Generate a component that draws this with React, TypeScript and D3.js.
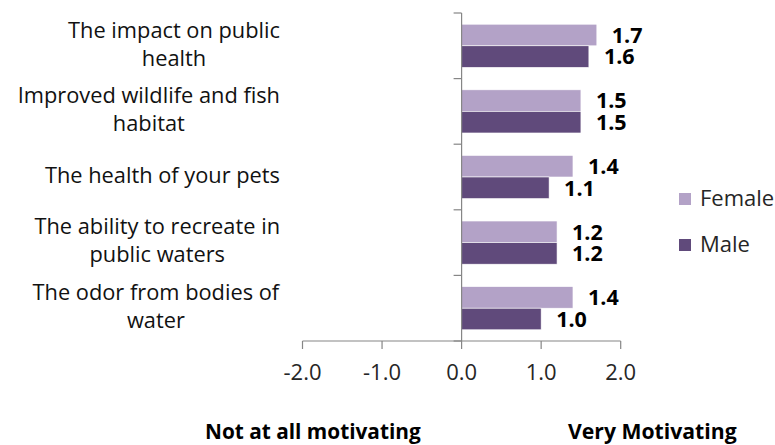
import { useEffect, useRef } from "react";
import * as d3 from "d3";

const categories = [
  "The impact on public health",
  "Improved wildlife and fish habitat",
  "The health of your pets",
  "The ability to recreate in public waters",
  "The odor from bodies of water",
];
// how the category labels wrap in the original
const categoryLines = [
  ["The impact on public", "health"],
  ["Improved wildlife and fish", "habitat"],
  ["The health of your pets"],
  ["The ability to recreate in", "public waters"],
  ["The odor from bodies of", "water"],
];
const series = ["Female", "Male"];
const female = [1.7, 1.5, 1.4, 1.2, 1.4];
const male = [1.6, 1.5, 1.1, 1.2, 1.0];
const xTicks = [-2, -1, 0, 1, 2];

const colors: Record<string, string> = { Female: "#b3a2c7", Male: "#604a7b" };
const axisColor = "#868686";
const font = "'Open Sans', Lato, sans-serif";
const fmt = (v: number) => d3.format(".1f")(v).replace("\u2212", "-");

function App() {
  const svgRef = useRef<SVGSVGElement | null>(null);

  useEffect(() => {
    const svg = d3.select(svgRef.current);
    svg.selectAll("*").remove();

    const x = d3.scaleLinear().domain([-2, 2]).range([302.5, 620.7]);
    const y = d3.scaleBand().domain(categories).range([13, 341]).padding(0);
    const sub = d3.scaleBand().domain(series).range([0, y.bandwidth()]).paddingInner(0).paddingOuter(0.52);

    const rows = categories.map((c, i) => ({ cat: c, Female: female[i], Male: male[i] }));

    // bars
    const g = svg.append("g");
    rows.forEach((r) => {
      series.forEach((s) => {
        const v = (r as any)[s] as number;
        const by = (y(r.cat) || 0) + (sub(s) || 0);
        g.append("rect")
          .attr("x", x(0))
          .attr("y", by)
          .attr("width", x(v) - x(0))
          .attr("height", sub.bandwidth())
          .attr("fill", colors[s])
          .attr("stroke", "#ffffff")
          .attr("stroke-width", 0.6);
        g.append("text")
          .attr("x", x(v) + 15)
          .attr("y", by + sub.bandwidth() / 2 + 2)
          .attr("dominant-baseline", "middle")
          .attr("font-family", font)
          .attr("font-weight", "bold")
          .attr("font-size", 21.5)
          .attr("fill", "#000")
          .text(fmt(v));
      });
    });

    // vertical axis with ticks between categories
    const yTicks = [...categories.map((c) => y(c) || 0), 341];
    svg.append("line")
      .attr("x1", x(0)).attr("x2", x(0))
      .attr("y1", 13).attr("y2", 341)
      .attr("stroke", axisColor).attr("stroke-width", 1.2);
    svg.selectAll(".ytick").data(yTicks).join("line")
      .attr("x1", x(0) - 8).attr("x2", x(0))
      .attr("y1", (d) => d).attr("y2", (d) => d)
      .attr("stroke", axisColor).attr("stroke-width", 1.2);

    // horizontal axis
    svg.append("line")
      .attr("x1", x(-2)).attr("x2", x(2))
      .attr("y1", 341).attr("y2", 341)
      .attr("stroke", axisColor).attr("stroke-width", 1.2);
    svg.selectAll(".xtick").data(xTicks).join("line")
      .attr("x1", (d) => x(d)).attr("x2", (d) => x(d))
      .attr("y1", 341).attr("y2", 349)
      .attr("stroke", axisColor).attr("stroke-width", 1.2);
    svg.selectAll(".xlab").data(xTicks).join("text")
      .attr("x", (d) => x(d))
      .attr("y", 374)
      .attr("dominant-baseline", "middle")
      .attr("text-anchor", "middle")
      .attr("font-family", font)
      .attr("font-size", 22)
      .attr("fill", "#262626")
      .text((d) => fmt(d));

    // category labels (centered block, right edge at 280)
    categories.forEach((c, i) => {
      const lines = categoryLines[i];
      const t = svg.append("text")
        .attr("font-family", font)
        .attr("font-size", 21.8)
        .attr("fill", "#111")
        .attr("text-anchor", "middle");
      const cy = (y(c) || 0) + y.bandwidth() / 2;
      const lh = 28;
      lines.forEach((ln, j) => {
        t.append("tspan")
          .attr("x", 0)
          .attr("y", cy + (j - (lines.length - 1) / 2) * lh)
          .attr("dominant-baseline", "middle")
          .text(ln);
      });
      const w = (t.node() as SVGTextElement).getBBox().width;
      t.selectAll("tspan").attr("x", 280 - w / 2);
    });

    // legend
    series.forEach((s, i) => {
      const ly = 199 + i * 46;
      svg.append("rect")
        .attr("x", 679).attr("y", ly - 6)
        .attr("width", 12).attr("height", 12)
        .attr("fill", colors[s]);
      svg.append("text")
        .attr("x", 700).attr("y", ly + 1)
        .attr("dominant-baseline", "middle")
        .attr("font-family", font)
        .attr("font-size", 22)
        .attr("fill", "#262626")
        .text(s);
    });

    // scale end captions
    svg.append("text")
      .attr("x", 205).attr("y", 433)
      .attr("dominant-baseline", "middle")
      .attr("font-family", font).attr("font-weight", "bold").attr("font-size", 20.8)
      .attr("fill", "#000")
      .text("Not at all motivating");
    svg.append("text")
      .attr("x", 568).attr("y", 433)
      .attr("dominant-baseline", "middle")
      .attr("font-family", font).attr("font-weight", "bold").attr("font-size", 21.2)
      .attr("fill", "#000")
      .text("Very Motivating");
  }, []);

  return (
    <svg
      ref={svgRef}
      width={775}
      height={445}
      style={{ position: "absolute", left: 0, top: 0, background: "#fff" }}
    />
  );
}

export default App;
